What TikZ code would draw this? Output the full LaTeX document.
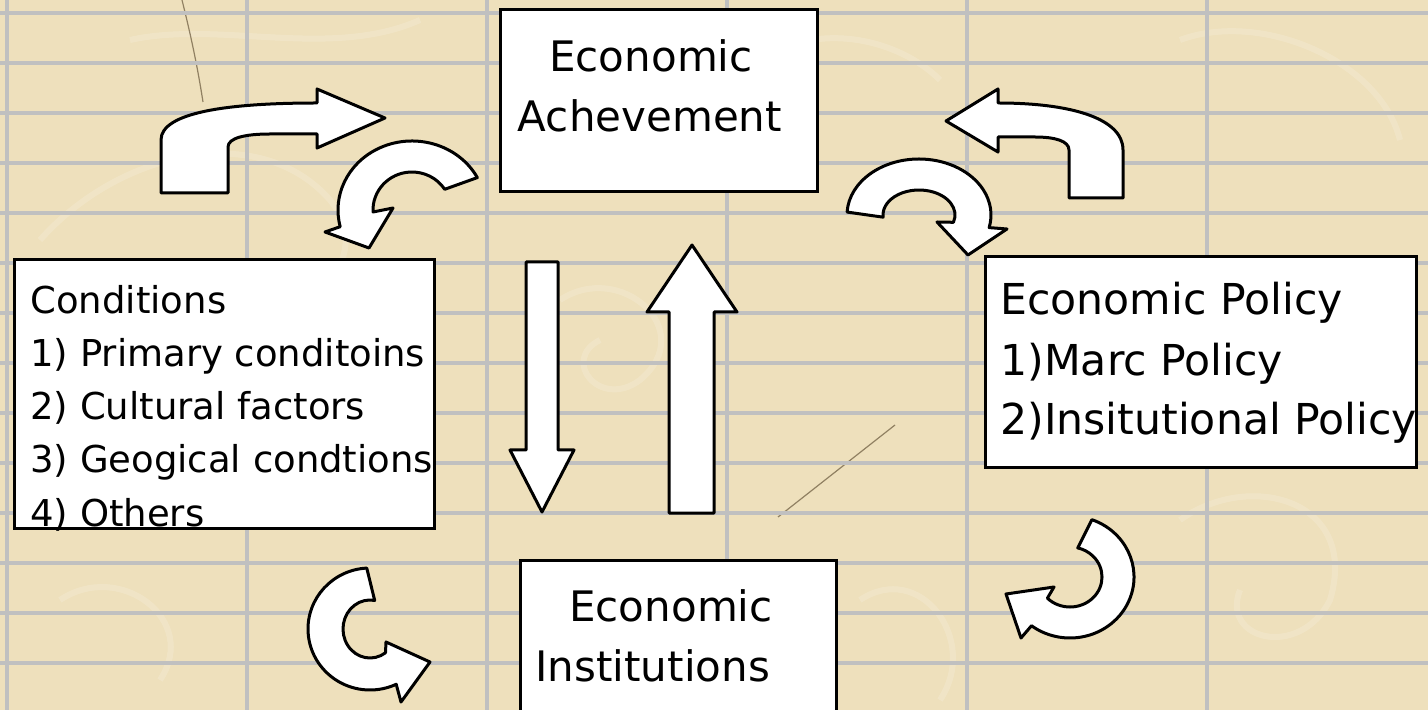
\documentclass[tikz,border=0pt]{standalone}
\usepackage{fontspec}
\setmainfont{DejaVu Sans}
\usetikzlibrary{calc,fit}
\definecolor{paper}{RGB}{238,224,188}
\definecolor{gridgray}{RGB}{192,192,192}
\definecolor{fibre}{RGB}{105,88,60}
\begin{document}
\begin{tikzpicture}[x=0.5pt,y=-0.5pt,
  gridline/.style={draw=gridgray,line width=2pt},
  framebox/.style={draw=black,fill=white,line width=1.5pt,inner sep=0pt},
  blockarrow/.style={draw=black,fill=white,line width=1.5pt,line join=round},
  bigtext/.style={inner sep=0pt,font=\fontsize{21pt}{25pt}\selectfont},
  policytext/.style={inner sep=0pt,font=\fontsize{21.3pt}{25pt}\selectfont},
  listtext/.style={inner sep=0pt,font=\fontsize{18.5pt}{22pt}\selectfont},
  streak/.style={draw=fibre,line width=0.6pt,opacity=0.7},
  softfibre/.style={draw=white,line width=3pt,opacity=0.16}]

\useasboundingbox (0,0) rectangle (1428,710);
\clip (0,0) rectangle (1428,710);

% paper background: base tone, pale fibres, two dark hairs
\fill[paper] (0,0) rectangle (1428,710);
\draw[softfibre] (40,240) .. controls (120,150) and (260,120) .. (330,200) .. controls (380,260) and (300,330) .. (240,300);
\draw[softfibre] (130,40) .. controls (220,20) and (330,60) .. (420,20);
\draw[softfibre] (560,300) .. controls (620,260) and (700,330) .. (640,380) .. controls (600,410) and (560,360) .. (600,340);
\draw[softfibre] (760,60) .. controls (820,20) and (900,40) .. (940,80);
\draw[softfibre] (1180,40) .. controls (1260,10) and (1380,60) .. (1400,140);
\draw[softfibre] (1180,520) .. controls (1250,470) and (1360,500) .. (1330,600) .. controls (1300,660) and (1220,640) .. (1240,590);
\draw[softfibre] (60,600) .. controls (120,560) and (200,620) .. (160,680);
\draw[softfibre] (860,600) .. controls (920,560) and (980,640) .. (940,700);
\draw[streak] (182,0) .. controls (192,40) and (198,70) .. (203,102);
\draw[streak] (778,517) -- (895,425);
\foreach \gy in {13,63,...,663} \draw[gridline] (0,\gy) -- (1428,\gy);
\foreach \gx in {7,247,...,1207} \draw[gridline] (\gx,0) -- (\gx,710);

% boxes
\node[framebox, fit={(500,10) (817,192)}] (ach) {};
\node[framebox, fit={(14,260) (434,528)}] (cond) {};
\node[framebox, fit={(985,257) (1416,468)}] (pol) {};
\node[framebox, fit={(520,560) (836,730)}] (inst) {};

% box texts
\node[bigtext, anchor=base] (achA) at (651,72) {Economic};
\node[bigtext, anchor=base] (achB) at (650,132) {Achevement};

\node[listtext, anchor=base west] (condA) at (30,314) {Conditions};
\node[listtext, anchor=base west] (condB) at (30,367) {1) Primary conditoins};
\node[listtext, anchor=base west] (condC) at (30,420) {2) Cultural factors};
\node[listtext, anchor=base west] (condD) at (30,473) {3) Geogical condtions};
\node[listtext, anchor=base west] (condE) at (30,526) {4) Others};

\node[policytext, anchor=base west] (polA) at (1000,315) {Economic Policy};
\node[policytext, anchor=base west] (polB) at (1000,376) {1)Marc Policy};
\node[policytext, anchor=base west] (polC) at (1000,435) {2)Insitutional Policy};

\node[bigtext, anchor=base] (instA) at (671,621) {Economic};
\node[bigtext, anchor=base west] (instB) at (535,681) {Institutions};

% straight block arrows between achievement and institutions
\draw[blockarrow] (526,262) -- (558,262) -- (558,450) -- (574,450) -- (542,512)
  -- (510,450) -- (526,450) -- cycle;
\draw[blockarrow] (669,513) -- (714,513) -- (714,312) -- (737,312) -- (692,245)
  -- (647,312) -- (669,312) -- cycle;

% bent block arrows at the top
\draw[blockarrow] (161,193) -- (161,140) .. controls (161,113) and (225,103) .. (317,103)
  -- (317,89) -- (385,118) -- (317,148) -- (317,134) -- (270,134)
  .. controls (245,134) and (228,138) .. (228,147) -- (228,193) -- cycle;
\draw[blockarrow] (1123,198) -- (1123,150) .. controls (1123,118) and (1070,103) .. (998,103)
  -- (998,89) -- (946,121) -- (998,152) -- (998,137) -- (1035,137)
  .. controls (1055,137) and (1069,141) .. (1069,150) -- (1069,198) -- cycle;

% circular block arrows
\coordinate (cA) at (412,210);
\draw[blockarrow] ($(cA)+(-28:74 and 69)$)
  arc[start angle=-28, end angle=-194, x radius=74, y radius=69]
  -- (325,232) -- (369,248) -- (393,208) -- ($(cA)+(-183:39 and 38)$)
  arc[start angle=-183, end angle=-33, x radius=39, y radius=38] -- cycle;

\coordinate (cB) at (919,215);
\draw[blockarrow] ($(cB)+(183:72 and 56)$)
  arc[start angle=183, end angle=373, x radius=72, y radius=56]
  -- (1007,229) -- (968,255) -- (937,222) -- ($(cB)+(377:36 and 25)$)
  arc[start angle=377, end angle=175, x radius=36, y radius=25] -- cycle;

\coordinate (cC) at (370,629);
\draw[blockarrow] ($(cC)+(-93:62 and 61)$)
  arc[start angle=-93, end angle=-295, x radius=62, y radius=61]
  -- (401,702) -- (430,662) -- (386,642) -- ($(cC)+(-305:27 and 29)$)
  arc[start angle=-305, end angle=-80, x radius=27, y radius=29] -- cycle;

\coordinate (cD) at (1070,577);
\draw[blockarrow] ($(cD)+(-70:64 and 61)$)
  arc[start angle=-70, end angle=127, x radius=64, y radius=61]
  -- (1021,638) -- (1006,594) -- (1054,587) -- ($(cD)+(135:32 and 30)$)
  arc[start angle=135, end angle=-76, x radius=32, y radius=30] -- cycle;

\end{tikzpicture}
\end{document}
